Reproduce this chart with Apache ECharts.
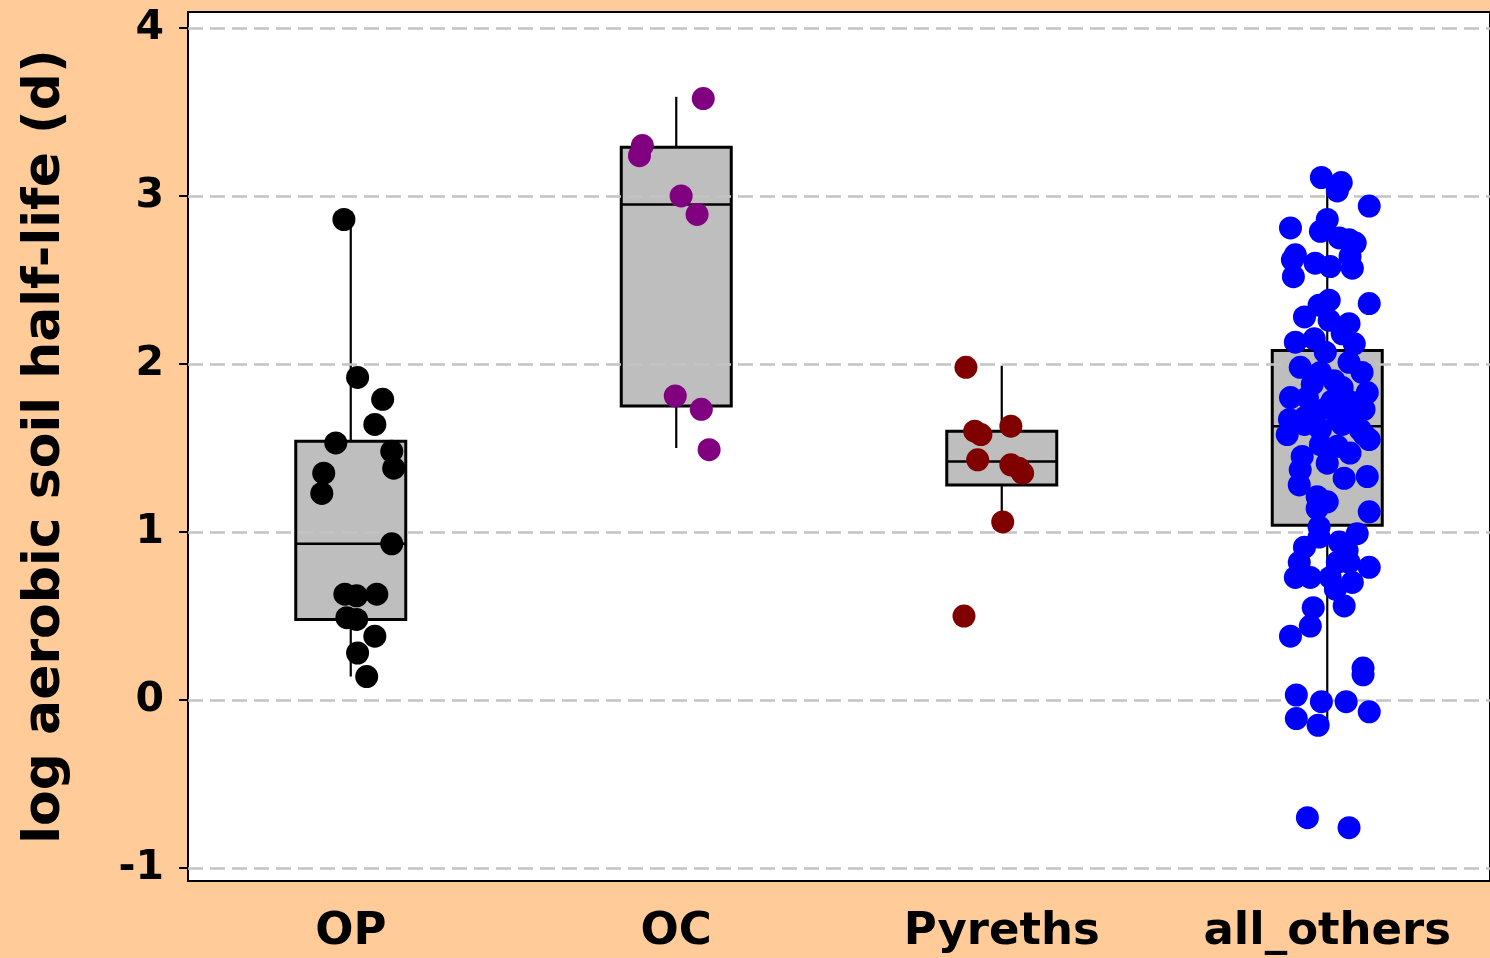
<!DOCTYPE html>
<html>
<head>
<meta charset="utf-8">
<script src="https://cdn.jsdelivr.net/npm/echarts@6/dist/echarts.min.js"></script>
<style>
  html, body { margin: 0; padding: 0; background: #FFCC99; }
  #chart { width: 1490px; height: 958px; }
</style>
</head>
<body>
<div id="chart"></div>
<script>
const categories = ['OP', 'OC', 'Pyreths', 'all_others'];
const yTicks = [-1, 0, 1, 2, 3, 4];

// box stats: [low whisker, Q1, median, Q3, high whisker]
const boxOP = [0.14, 0.48, 0.93, 1.54, 2.86];
const boxOC = [1.50, 1.75, 2.95, 3.29, 3.59];
const boxPyreths = [1.06, 1.28, 1.42, 1.60, 1.99];
const boxOthers = [-0.15, 1.04, 1.63, 2.08, 3.08];

// jittered points: [x position on category scale, log half-life]
const pointsOP = [
  [0.979, 2.86], [1.021, 1.92], [1.098, 1.79], [1.074, 1.64], [0.954, 1.53],
  [1.126, 1.48], [1.132, 1.38], [0.917, 1.35], [0.911, 1.23], [1.126, 0.93],
  [0.982, 0.63], [1.018, 0.62], [1.080, 0.63], [0.988, 0.49], [1.018, 0.48],
  [1.074, 0.38], [1.021, 0.28], [1.049, 0.14]
];
const pointsOC = [
  [2.083, 3.58], [1.896, 3.30], [1.887, 3.24], [2.015, 3.00], [2.064, 2.89],
  [1.997, 1.81], [2.077, 1.73], [2.101, 1.49]
];
const pointsPyreths = [
  [2.890, 1.98], [3.028, 1.63], [2.917, 1.60], [2.936, 1.58], [2.926, 1.43],
  [3.028, 1.40], [3.052, 1.38], [3.064, 1.35], [3.003, 1.06], [2.884, 0.50]
];
const pointsOthers = [
  [3.982, 3.11], [4.043, 3.08], [4.031, 3.03], [4.129, 2.94], [4.000, 2.86],
  [3.887, 2.81], [3.979, 2.79], [4.037, 2.75], [4.067, 2.74], [4.086, 2.72],
  [3.902, 2.65], [3.893, 2.62], [4.070, 2.64], [3.963, 2.60], [4.009, 2.58],
  [4.077, 2.57], [3.896, 2.52], [4.006, 2.38], [4.129, 2.36], [3.975, 2.35],
  [3.930, 2.28], [4.006, 2.26], [4.067, 2.24], [3.902, 2.13], [3.960, 2.15],
  [4.046, 2.18], [4.083, 2.12], [3.994, 2.07], [3.917, 1.98], [4.067, 2.01],
  [4.107, 1.95], [3.979, 1.95], [4.021, 1.90], [4.123, 1.83], [3.887, 1.80],
  [3.939, 1.80], [4.052, 1.80], [4.083, 1.77], [4.000, 1.74], [3.884, 1.67],
  [3.930, 1.68], [4.031, 1.69], [4.113, 1.73], [3.979, 1.61], [4.101, 1.61],
  [3.954, 1.88], [4.046, 1.86], [4.015, 1.78], [3.969, 1.72], [4.061, 1.66],
  [3.877, 1.58], [3.930, 1.64], [4.046, 1.64], [4.113, 1.58], [4.129, 1.55],
  [4.031, 1.51], [3.979, 1.52], [3.923, 1.45], [4.070, 1.47], [3.917, 1.37],
  [4.000, 1.41], [4.052, 1.32], [4.123, 1.33], [3.914, 1.28], [3.969, 1.21],
  [4.000, 1.18], [3.969, 1.14], [4.129, 1.12], [3.975, 1.03], [4.092, 0.99],
  [3.975, 0.97], [3.930, 0.91], [4.037, 0.94], [4.061, 0.89], [3.914, 0.82],
  [4.031, 0.82], [4.067, 0.82], [4.129, 0.79], [3.902, 0.73], [3.948, 0.73],
  [4.009, 0.73], [4.077, 0.70], [4.025, 0.66], [4.052, 0.56], [3.957, 0.55],
  [3.948, 0.44], [3.887, 0.38], [4.110, 0.19], [4.110, 0.15], [3.905, 0.03],
  [3.982, -0.01], [4.058, -0.01], [3.905, -0.11], [4.129, -0.07], [3.972, -0.15],
  [3.939, -0.70], [4.067, -0.76]
];

const boxes = [boxOP, boxOC, boxPyreths, boxOthers].map((b, i) => [i].concat(b));
const font = 'DejaVu Sans';

let chart = echarts.init(document.getElementById('chart'));

const renderBox = (params, api) => {
  const idx = api.value(0);
  const lo = api.coord([idx, api.value(1)]);
  const q1 = api.coord([idx, api.value(2)]);
  const med = api.coord([idx, api.value(3)]);
  const q3 = api.coord([idx, api.value(4)]);
  const hi = api.coord([idx, api.value(5)]);
  const cx = q1[0];
  const hw = 55;
  const line = {stroke: '#000', lineWidth: 2.2};
  return {
    type: 'group',
    children: [
      {type: 'line', shape: {x1: cx, y1: lo[1], x2: cx, y2: q1[1]}, style: line},
      {type: 'line', shape: {x1: cx, y1: q3[1], x2: cx, y2: hi[1]}, style: line},
      {type: 'rect', shape: {x: cx - hw, y: q3[1], width: hw * 2, height: q1[1] - q3[1]},
        style: {fill: '#BEBEBE', stroke: '#000', lineWidth: 3}},
      {type: 'line', shape: {x1: cx - hw, y1: med[1], x2: cx + hw, y2: med[1]},
        style: {stroke: '#000', lineWidth: 2.5}}
    ]
  };
};

const dots = (name, data, color) => ({
  name: name,
  type: 'scatter',
  xAxisIndex: 1,
  z: 5,
  symbolSize: 23,
  itemStyle: {color: color, opacity: 1},
  data: data
});

chart.setOption({
  backgroundColor: '#FFCC99',
  animation: false,
  grid: {
    left: 188,
    top: 12,
    width: 1305,
    bottom: 77,
    show: true,
    backgroundColor: '#fff',
    borderColor: '#000',
    borderWidth: 2
  },
  xAxis: [
    {
      type: 'category',
      data: categories,
      boundaryGap: true,
      axisLine: {onZero: false, lineStyle: {color: '#000', width: 2}},
      axisTick: {alignWithLabel: true, interval: 0, length: 10, lineStyle: {color: '#000', width: 2}},
      axisLabel: {color: '#000', fontSize: 45, fontWeight: 'bold', fontFamily: font, margin: 29,
        interval: 0},
      splitLine: {show: false}
    },
    {
      type: 'value',
      min: 0.5,
      max: 4.5,
      show: false,
      axisLine: {onZero: false}
    }
  ],
  yAxis: {
    type: 'value',
    min: -1.077,
    max: 4.095,
    name: 'log aerobic soil half-life (d)',
    nameLocation: 'middle',
    nameGap: 117,
    nameTextStyle: {color: '#000', fontSize: 52, fontWeight: 'bold', fontFamily: font},
    axisLine: {show: true, onZero: false, lineStyle: {color: '#000', width: 2}},
    axisTick: {show: true, length: 9, customValues: yTicks, lineStyle: {color: '#000', width: 2}},
    axisLabel: {color: '#000', fontSize: 41, fontWeight: 'bold', fontFamily: font, margin: 24,
      customValues: yTicks},
    splitLine: {show: false}
  },
  series: [
    {
      type: 'scatter',
      xAxisIndex: 1,
      z: 1,
      data: [],
      markLine: {
        silent: true,
        symbol: 'none',
        label: {show: false},
        lineStyle: {color: '#C4C4C4', width: 2.5, type: [15, 7]},
        data: yTicks.map(v => ({yAxis: v}))
      }
    },
    {
      type: 'custom',
      xAxisIndex: 0,
      z: 2,
      renderItem: renderBox,
      data: boxes
    },
    dots('OP', pointsOP, '#000000'),
    dots('OC', pointsOC, '#800080'),
    dots('Pyreths', pointsPyreths, '#800000'),
    dots('all_others', pointsOthers, '#0000FF')
  ]
});
</script>
</body>
</html>
